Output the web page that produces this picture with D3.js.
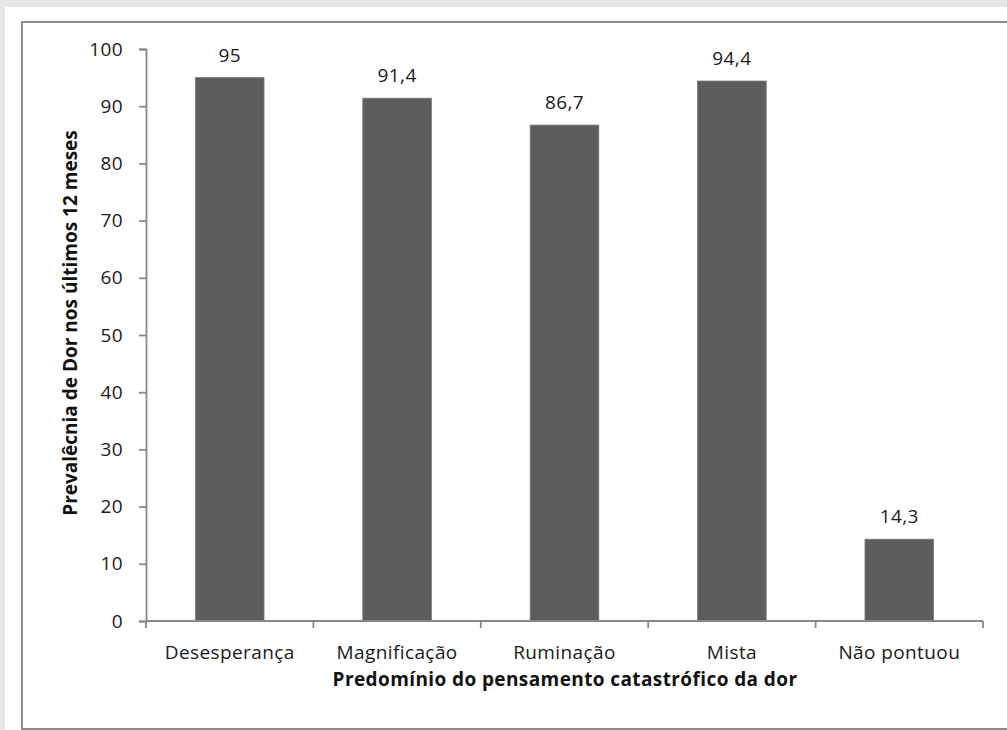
<!DOCTYPE html>
<meta charset="utf-8">
<style>
body { margin: 0; background: #e6e6e6; }
.axis path, .axis line { fill: none; stroke: #898989; stroke-width: 1.8px; }
.axis text { font: 19px "Open Sans", sans-serif; letter-spacing: 0.4px; fill: #1a1a1a; }
.lbl { font: 19px "Open Sans", sans-serif; letter-spacing: 0.4px; fill: #1a1a1a; }
.title { font: bold 19px "Open Sans", sans-serif; fill: #111; }
</style>
<svg width="1007" height="730"></svg>
<script src="https://d3js.org/d3.v7.min.js"></script>
<script>

var categories = ["Desesperança", "Magnificação", "Ruminação", "Mista", "Não pontuou"];
var values = [95, 91.4, 86.7, 94.4, 14.3];
var valueLabels = ["95", "91,4", "86,7", "94,4", "14,3"];
var yTicks = [0, 10, 20, 30, 40, 50, 60, 70, 80, 90, 100];

var svg = d3.select("svg");

// white panel and chart frame
svg.append("rect").attr("x", 5).attr("y", 7).attr("width", 1010).attr("height", 730).attr("fill", "#fff");
svg.append("rect").attr("x", 22).attr("y", 22).attr("width", 1000).attr("height", 707)
    .attr("fill", "none").attr("stroke", "#8c8c8c").attr("stroke-width", 2);

var plotLeft = 146, plotRight = 983, plotTop = 49, plotBottom = 621;

var x = d3.scaleBand().domain(categories).range([plotLeft, plotRight]);
var y = d3.scaleLinear().domain([0, 100]).range([plotBottom, plotTop]);

var barW = x.bandwidth() * 0.41;

svg.selectAll("rect.bar")
    .data(values)
  .enter().append("rect")
    .attr("class", "bar")
    .attr("x", function(d, i) { return x(categories[i]) + (x.bandwidth() - barW) / 2; })
    .attr("y", function(d) { return y(d); })
    .attr("width", barW)
    .attr("height", function(d) { return y(0) - y(d); })
    .attr("fill", "#5d5d5d")
    .attr("stroke", "#7a7a7a")
    .attr("stroke-width", 0.8);

svg.selectAll("text.lbl")
    .data(values)
  .enter().append("text")
    .attr("class", "lbl")
    .attr("text-anchor", "middle")
    .attr("x", function(d, i) { return x(categories[i]) + x.bandwidth() / 2; })
    .attr("y", function(d) { return y(d) - 16; })
    .text(function(d, i) { return valueLabels[i]; });

svg.append("g").attr("class", "axis")
    .attr("transform", "translate(" + plotLeft + ",0)")
    .call(d3.axisLeft(y).tickValues(yTicks).tickSize(7).tickSizeOuter(7).tickPadding(16));

// x axis with ticks at category boundaries
var xb = svg.append("g").attr("class", "axis")
    .attr("transform", "translate(0," + plotBottom + ")");
xb.append("path").attr("d", "M" + plotLeft + ",0H" + plotRight);
xb.selectAll("line")
    .data(d3.range(categories.length + 1))
  .enter().append("line")
    .attr("x1", function(i) { return plotLeft + i * x.step(); })
    .attr("x2", function(i) { return plotLeft + i * x.step(); })
    .attr("y1", 0).attr("y2", 7);
xb.selectAll("text")
    .data(categories)
  .enter().append("text")
    .attr("text-anchor", "middle")
    .attr("x", function(d) { return x(d) + x.bandwidth() / 2; })
    .attr("y", 38)
    .text(function(d) { return d; });

svg.append("text").attr("class", "title")
    .attr("text-anchor", "middle")
    .attr("letter-spacing", "0.4px")
    .attr("x", 565).attr("y", 686)
    .text("Predomínio do pensamento catastrófico da dor");

svg.append("text").attr("class", "title")
    .attr("text-anchor", "middle")
    .attr("transform", "translate(77,323) rotate(-90)")
    .text("Prevalêcnia de Dor nos últimos 12 meses");

</script>
